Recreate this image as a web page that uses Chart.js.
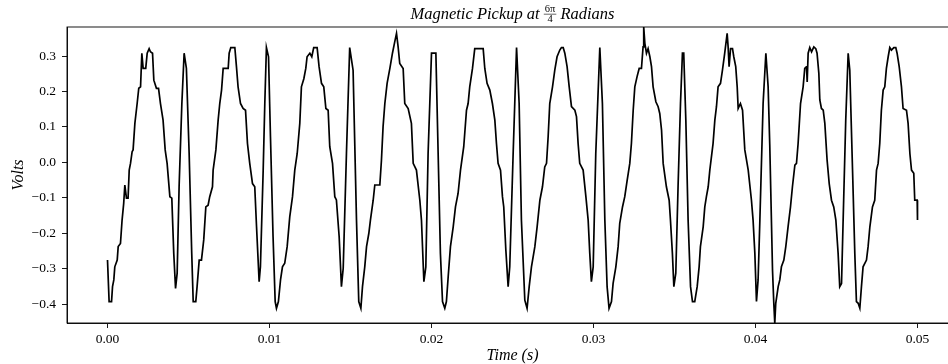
<!DOCTYPE html>
<html><head><meta charset="utf-8">
<script src="https://cdn.jsdelivr.net/npm/chart.js@4/dist/chart.umd.min.js"></script>
<style>
html,body{margin:0;padding:0;overflow:hidden;background:#fff;width:948px;height:364px}
#wrap{position:absolute;left:0;top:0;width:1000px;height:364px}
canvas{display:block}
</style>
</head><body><div id="wrap"><canvas id="c" width="1000" height="364" style="width:1000px;height:364px"></canvas></div>
<script>
// Time (s) of each read sample
const timeS = [
0,0.0001,0.00025,0.00031,0.00039,0.00045,0.0006,0.00066,0.0008,0.0009,0.001,0.00107,0.00117,0.00127,0.00134,0.00142,0.00152,0.00158,0.00169,0.00183,0.00193,0.00204,0.00212,0.0022,0.00236,0.00245,0.00257,0.00265,0.00278,0.00286,0.00302,0.00315,0.00327,0.00343,0.00356,0.00368,0.00385,0.00397,0.00409,0.0042,0.0043,0.00442,0.00459,0.00473,0.00487,0.00504,0.0052,0.00529,0.00545,0.00553,0.00566,0.0058,0.00594,0.00607,0.00621,0.00631,0.00648,0.00652,0.00669,0.00683,0.00693,0.00704,0.00714,0.00745,0.00751,0.00761,0.00786,0.00796,0.00806,0.00821,0.00837,0.00852,0.00864,0.00878,0.00895,0.00909,0.0092,0.00936,0.00944,0.00961,0.00971,0.00981,0.00994,0.01006,0.01022,0.01035,0.01043,0.01055,0.01068,0.0108,0.01094,0.01109,0.01125,0.01142,0.01156,0.01171,0.01187,0.01197,0.01212,0.01224,0.01232,0.01249,0.01261,0.01273,0.01294,0.01306,0.01321,0.01335,0.01348,0.01362,0.01372,0.01389,0.01403,0.01413,0.0143,0.01444,0.01455,0.01475,0.01495,0.01516,0.01537,0.01551,0.01564,0.01574,0.01588,0.01599,0.01613,0.01623,0.0164,0.0165,0.01681,0.01691,0.01701,0.01712,0.01726,0.01743,0.01759,0.01773,0.01784,0.01794,0.01804,0.01825,0.01835,0.01856,0.01876,0.01887,0.01907,0.01928,0.01938,0.01953,0.01965,0.01979,0.02,0.02027,0.02041,0.02055,0.02068,0.02082,0.02092,0.02103,0.02117,0.02134,0.02148,0.02164,0.02179,0.02199,0.02216,0.02226,0.02236,0.02253,0.02267,0.02319,0.02329,0.02343,0.0236,0.02376,0.02391,0.02401,0.02411,0.02426,0.02438,0.02446,0.02459,0.02473,0.02483,0.02504,0.02525,0.02541,0.02555,0.02576,0.0259,0.02603,0.02617,0.02638,0.02652,0.02669,0.02685,0.02699,0.0271,0.0272,0.0273,0.02747,0.02761,0.02775,0.02792,0.02802,0.02813,0.02823,0.02837,0.0285,0.02864,0.02885,0.02895,0.02905,0.02915,0.02936,0.02953,0.02967,0.02977,0.02987,0.02998,0.03014,0.03039,0.03055,0.0307,0.03084,0.03096,0.03111,0.03121,0.03138,0.03152,0.03162,0.03179,0.03193,0.03208,0.03224,0.03234,0.03245,0.03255,0.03269,0.03282,0.03296,0.03306,0.0331,0.03317,0.03327,0.03337,0.03348,0.03358,0.03368,0.03385,0.03399,0.03409,0.0342,0.0343,0.0345,0.03467,0.03475,0.03487,0.03496,0.03508,0.03522,0.03537,0.03549,0.03557,0.0357,0.03584,0.03599,0.03611,0.03625,0.0364,0.03652,0.0366,0.03677,0.03687,0.03697,0.03708,0.03718,0.03738,0.03749,0.03759,0.03769,0.03784,0.03796,0.0381,0.03825,0.03831,0.03837,0.03846,0.03858,0.03866,0.03878,0.03887,0.03893,0.03907,0.0392,0.03934,0.03955,0.03975,0.03985,0.03996,0.04006,0.04016,0.04027,0.04047,0.04064,0.04078,0.04088,0.04105,0.04113,0.04119,0.04125,0.0414,0.0415,0.0416,0.04175,0.04187,0.04201,0.04216,0.04228,0.04243,0.04253,0.04263,0.04278,0.04294,0.04304,0.04315,0.04319,0.04325,0.04335,0.04346,0.0436,0.04372,0.0438,0.04391,0.04397,0.04407,0.04418,0.04428,0.04442,0.04455,0.04469,0.04483,0.04496,0.0451,0.0452,0.04531,0.04541,0.04557,0.04572,0.04582,0.04599,0.04613,0.04623,0.04634,0.04644,0.04654,0.04664,0.04685,0.04695,0.04706,0.04722,0.04736,0.04747,0.04757,0.04767,0.04777,0.04788,0.04798,0.04808,0.04819,0.04829,0.04839,0.04854,0.04866,0.04874,0.04887,0.04901,0.04911,0.04932,0.04942,0.04953,0.04963,0.04977,0.04983,0.04998,0.05
];
// Volts read at each sample
const volts = [
-0.276,-0.393,-0.393,-0.351,-0.332,-0.295,-0.276,-0.238,-0.229,-0.163,-0.116,-0.064,-0.101,-0.101,-0.022,-0.003,0.030,0.035,0.110,0.166,0.209,0.213,0.308,0.265,0.265,0.308,0.321,0.312,0.308,0.232,0.209,0.209,0.166,0.119,0.035,-0.003,-0.097,-0.101,-0.257,-0.356,-0.313,-0.069,0.166,0.308,0.265,0.025,-0.257,-0.393,-0.393,-0.351,-0.276,-0.276,-0.219,-0.126,-0.121,-0.097,-0.069,-0.022,0.035,0.119,0.166,0.204,0.265,0.265,0.308,0.324,0.324,0.270,0.213,0.166,0.152,0.147,0.053,-0.003,-0.060,-0.069,-0.182,-0.337,-0.295,-0.022,0.166,0.324,0.298,0.072,-0.210,-0.393,-0.412,-0.393,-0.332,-0.295,-0.285,-0.238,-0.154,-0.097,-0.022,0.025,0.110,0.213,0.236,0.265,0.298,0.308,0.298,0.324,0.324,0.270,0.223,0.213,0.152,0.147,0.044,-0.003,-0.097,-0.106,-0.210,-0.351,-0.299,0.025,0.324,0.260,-0.163,-0.393,-0.412,-0.351,-0.295,-0.238,-0.201,-0.163,-0.107,-0.064,-0.064,0.006,0.100,0.166,0.223,0.265,0.308,0.340,0.364,0.326,0.279,0.265,0.166,0.152,0.110,-0.003,-0.022,-0.107,-0.163,-0.337,-0.295,0.025,0.308,0.308,0.025,-0.257,-0.393,-0.412,-0.393,-0.323,-0.238,-0.182,-0.126,-0.088,-0.022,0.044,0.147,0.166,0.213,0.265,0.321,0.321,0.265,0.223,0.204,0.166,0.119,0.053,-0.003,-0.022,-0.097,-0.126,-0.248,-0.351,-0.295,0.025,0.324,0.166,-0.163,-0.389,-0.412,-0.351,-0.295,-0.238,-0.182,-0.107,-0.069,-0.013,-0.003,0.072,0.166,0.213,0.260,0.298,0.317,0.324,0.324,0.308,0.270,0.213,0.157,0.147,0.129,0.053,-0.003,-0.022,-0.097,-0.163,-0.257,-0.337,-0.295,0.025,0.324,0.166,-0.163,-0.351,-0.412,-0.393,-0.342,-0.295,-0.238,-0.172,-0.126,-0.097,-0.050,-0.003,0.053,0.147,0.213,0.242,0.265,0.265,0.326,0.382,0.336,0.308,0.321,0.298,0.270,0.213,0.171,0.157,0.138,0.091,-0.003,-0.069,-0.107,-0.163,-0.257,-0.351,-0.313,-0.069,0.166,0.308,0.308,0.119,-0.163,-0.351,-0.393,-0.393,-0.351,-0.295,-0.238,-0.182,-0.126,-0.097,-0.069,-0.022,0.053,0.119,0.157,0.213,0.223,0.260,0.308,0.364,0.326,0.270,0.321,0.321,0.298,0.270,0.213,0.152,0.166,0.147,0.035,-0.022,-0.107,-0.163,-0.257,-0.393,-0.332,-0.163,0.166,0.308,0.213,0.050,-0.304,-0.398,-0.454,-0.398,-0.351,-0.332,-0.295,-0.276,-0.238,-0.182,-0.126,-0.069,-0.008,-0.003,0.053,0.166,0.213,0.265,0.270,0.227,0.308,0.324,0.312,0.326,0.321,0.308,0.251,0.176,0.152,0.147,0.110,0.006,-0.060,-0.107,-0.126,-0.163,-0.257,-0.351,-0.342,-0.163,0.119,0.308,0.260,-0.022,-0.257,-0.393,-0.398,-0.412,-0.351,-0.295,-0.276,-0.238,-0.182,-0.126,-0.107,-0.022,-0.003,0.053,0.147,0.204,0.213,0.265,0.298,0.324,0.317,0.324,0.324,0.308,0.270,0.213,0.152,0.147,0.110,0.025,-0.022,-0.031,-0.107,-0.107,-0.163
];
const xTickValues = [0, 0.01, 0.02, 0.03, 0.04, 0.05];
const xTickLabels = ['0.00', '0.01', '0.02', '0.03', '0.04', '0.05'];
const yTickValues = [-0.4, -0.3, -0.2, -0.1, 0.0, 0.1, 0.2, 0.3];
const yTickLabels = ['\u22120.4', '\u22120.3', '\u22120.2', '\u22120.1', '0.0', '0.1', '0.2', '0.3'];
const titleMain = 'Magnetic Pickup at ';
const titleNum = '6\u03c0';
const titleDen = '4';
const titleEnd = ' Radians';
const xLabel = 'Time (s)';
const yLabel = 'Volts';

const points = timeS.map((t, i) => ({x: t, y: volts[i]}));

const SERIF = '"Liberation Serif", "DejaVu Serif", serif';

const textPlugin = {
  id: 'texts',
  afterDraw(chart) {
    const ctx = chart.ctx, ca = chart.chartArea;
    ctx.save();
    // frame (spines)
    ctx.strokeStyle = '#000';
    ctx.lineWidth = 0.9;
    ctx.strokeRect(ca.left, ca.top, ca.right - ca.left, ca.bottom - ca.top);
    const cx = (ca.left + ca.right) / 2;
    // title with fraction
    ctx.fillStyle = '#000';
    ctx.textBaseline = 'alphabetic';
    ctx.textAlign = 'left';
    const mainFont = 'italic 16.5px ' + SERIF;
    const fracFont = '10.5px ' + SERIF;
    ctx.font = mainFont;
    const wa = ctx.measureText(titleMain).width;
    const wb = ctx.measureText(titleEnd).width;
    ctx.font = fracFont;
    const wn = ctx.measureText(titleNum).width;
    const wd = ctx.measureText(titleDen).width;
    const wf = Math.max(wn, wd) + 2;
    const total = wa + wf + wb;
    let x = cx - total / 2;
    const base = 19;
    ctx.font = mainFont;
    ctx.fillText(titleMain, x, base);
    x += wa;
    ctx.font = fracFont;
    ctx.fillText(titleNum, x + (wf - wn) / 2, 12.3);
    ctx.fillText(titleDen, x + (wf - wd) / 2, 21.5);
    ctx.lineWidth = 0.6;
    ctx.beginPath();
    ctx.moveTo(x, 14.2); ctx.lineTo(x + wf, 14.2); ctx.stroke();
    x += wf;
    ctx.font = mainFont;
    ctx.fillText(titleEnd, x, base);
    // x label
    ctx.textAlign = 'center';
    ctx.font = 'italic 16px ' + SERIF;
    ctx.fillText(xLabel, cx, 360);
    // y label
    ctx.translate(23, (ca.top + ca.bottom) / 2);
    ctx.rotate(-Math.PI / 2);
    ctx.fillText(yLabel, 0, 0);
    ctx.restore();
  }
};

new Chart(document.getElementById('c'), {
  type: 'line',
  data: {
    datasets: [{
      data: points,
      borderColor: '#000',
      borderWidth: 1.7,
      pointRadius: 0,
      tension: 0,
      fill: false
    }]
  },
  options: {
    responsive: false,
    animation: false,
    devicePixelRatio: 1,
    layout: {padding: {left: 0, right: 42, top: 27, bottom: 0}},
    plugins: {legend: {display: false}, tooltip: {enabled: false}, title: {display: false}},
    scales: {
      x: {
        type: 'linear',
        min: -0.0025,
        max: 0.0525,
        afterBuildTicks: s => { s.ticks = xTickValues.map(v => ({value: v})); },
        afterFit: s => { s.height = 41; },
        ticks: {
          callback: (v) => { const i = xTickValues.findIndex(t => Math.abs(t - v) < 1e-9); return i >= 0 ? xTickLabels[i] : ''; },
          font: {family: SERIF, size: 13.5}, color: '#000', padding: 3, maxRotation: 0, autoSkip: false
        },
        grid: {display: true, drawOnChartArea: false, drawTicks: true, tickLength: 5, color: '#000', lineWidth: 0.9},
        border: {display: true, color: '#000', width: 0.9}
      },
      y: {
        type: 'linear',
        min: -0.4536,
        max: 0.382,
        afterBuildTicks: s => { s.ticks = yTickValues.map(v => ({value: v})); },
        afterFit: s => { s.width = 67; },
        ticks: {
          callback: (v) => { const i = yTickValues.findIndex(t => Math.abs(t - v) < 1e-9); return i >= 0 ? yTickLabels[i] : ''; },
          font: {family: SERIF, size: 13.5}, color: '#000', padding: 6, autoSkip: false
        },
        grid: {display: true, drawOnChartArea: false, drawTicks: true, tickLength: 5, color: '#000', lineWidth: 0.9},
        border: {display: true, color: '#000', width: 0.9}
      }
    }
  },
  plugins: [textPlugin]
});
</script>
</body></html>
